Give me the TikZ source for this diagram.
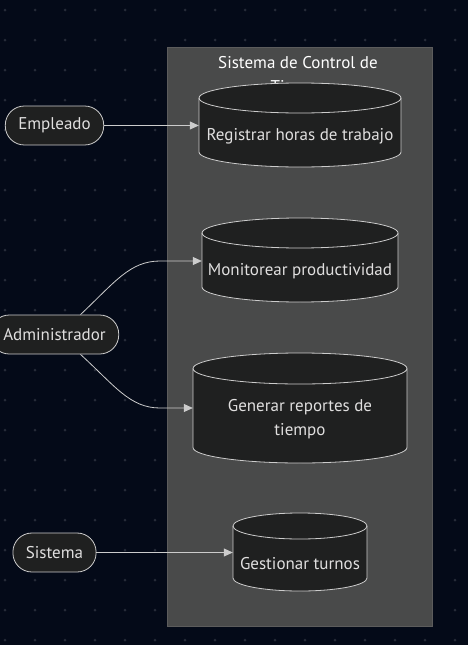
\documentclass[tikz,border=0pt]{standalone}
\usepackage{fontspec}
\setmainfont{PT Sans}
\usetikzlibrary{arrows.meta}
\definecolor{bgc}{HTML}{040A18}
\definecolor{dotc}{HTML}{262B38}
\definecolor{clfill}{HTML}{494A4A}
\definecolor{clline}{HTML}{5C5C5C}
\definecolor{nfill}{HTML}{1F2020}
\definecolor{nline}{HTML}{CCCCCC}
\definecolor{ntext}{HTML}{E0DFDF}
% name, x, top, bottom, half width, ry, text
\newcommand{\dbcyl}[7]{%
  \filldraw[dbline,fill=nfill] ({#2-#5},{#3+#6}) -- ({#2-#5},{#4-#6})
    arc[start angle=180,end angle=0,x radius=#5,y radius=#6] -- ({#2+#5},{#3+#6})
    arc[start angle=0,end angle=-180,x radius=#5,y radius=#6] -- cycle;
  \draw[dbline] ({#2-#5},{#3+#6}) arc[start angle=180,end angle=0,x radius=#5,y radius=#6];
  \node[dbtext,minimum width={2*#5}] (#1) at ({#2},{(#3+#4)/2+11.5}) {#7};}
\begin{document}
\begin{tikzpicture}[x=1pt,y=-1pt,
  every node/.style={font=\fontsize{17}{24}\selectfont,text=ntext},
  cluster/.style={draw=clline,fill=clfill,minimum width=265pt,minimum height=579pt,inner sep=0pt},
  actor/.style={draw=nline,fill=nfill,rounded corners=19pt,minimum height=39pt,inner xsep=13pt,inner ysep=0pt,line width=0.8pt},
  dbline/.style={draw=nline,line width=0.8pt},
  dbtext/.style={align=center,inner sep=0pt},
  arr/.style={-{Triangle[length=9pt,width=8pt]},draw=nline,line width=0.8pt}]
  \useasboundingbox[fill=bgc] (0,0) rectangle (468,645);
  \foreach \x in {5,35,...,465}
    \foreach \y in {10,40,...,640}
      \fill[dotc] (\x,\y) circle (1.5pt);
  \node[cluster] (sys) at (299.5,336.5) {};
  \node[align=center,anchor=north,text=white,inner sep=0pt] (title) at (298,56) {Sistema de Control de\\Tiempo};
  \dbcyl{reg}{300}{83}{167}{101}{15}{Registrar horas de trabajo}
  \dbcyl{mon}{300}{218}{302}{98}{15}{Monitorear productividad}
  \dbcyl{gen}{300}{353}{463}{107}{15.5}{Generar reportes de\\tiempo}
  \dbcyl{ges}{300}{513}{591}{67}{13}{Gestionar turnos}
  \node[actor] (emp) at (54.5,125.5) {Empleado};
  \node[actor] (adm) at (54.5,334.5) {Administrador};
  \node[actor] (sis) at (54.5,552.5) {Sistema};
  \draw[arr] (emp) -- (reg.west|-emp);
  \draw[arr] ([xshift=26pt]adm.north) .. controls (115,282) and (130,261) .. (160,261) -- (mon.west|-0,261);
  \draw[arr] ([xshift=26pt]adm.south) .. controls (115,386) and (130,408) .. (160,408) -- (gen.west|-0,408);
  \draw[arr] (sis) -- (ges.west|-sis);
\end{tikzpicture}
\end{document}
